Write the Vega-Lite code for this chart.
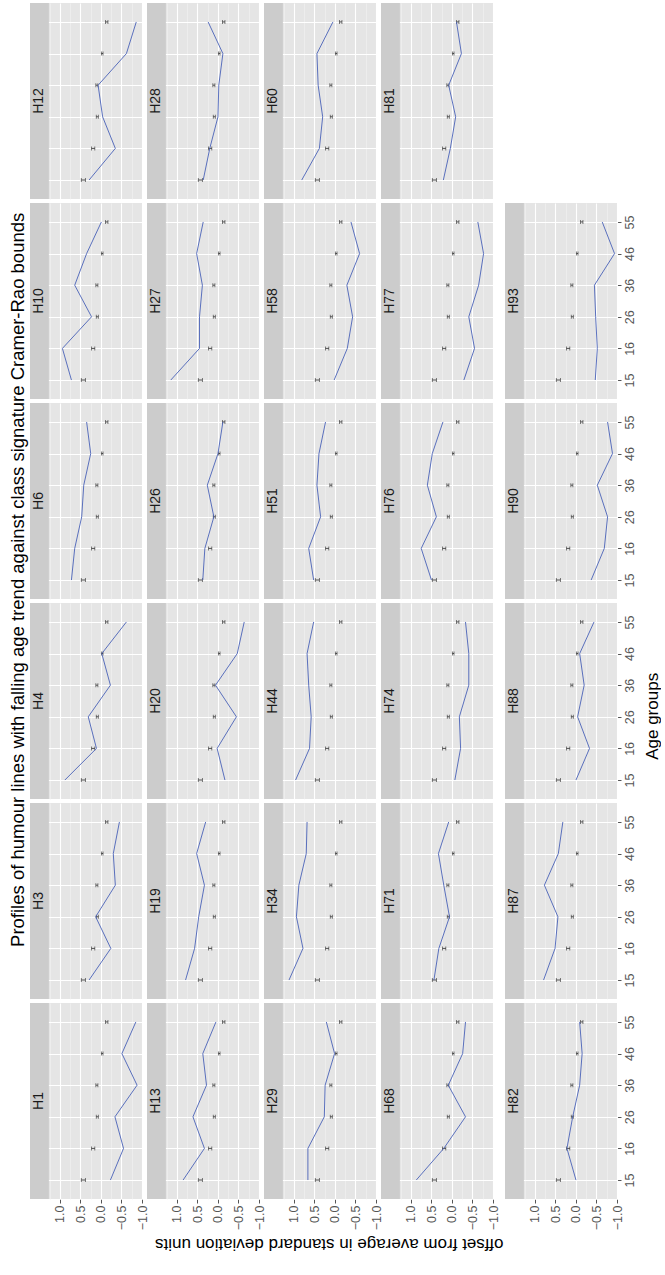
{
 "$schema": "https://vega.github.io/schema/vega-lite/v6.json",
 "background": "white",
 "padding": {"left": 8, "top": 3, "right": 0, "bottom": 0},
 "title": {"text": "Profiles of humour lines with falling age trend against class signature Cramer-Rao bounds", "orient": "left", "anchor": "middle", "dx": 48, "fontSize": 18.5, "fontWeight": "normal", "font": "Liberation Sans", "color": "black", "offset": 3},
 "datasets": {
  "bounds": [
   {"age": 15, "lo": 0.38, "hi": 0.48},
   {"age": 16, "lo": 0.15, "hi": 0.23},
   {"age": 26, "lo": 0.065, "hi": 0.115},
   {"age": 36, "lo": 0.075, "hi": 0.125},
   {"age": 46, "lo": -0.05, "hi": -0.01},
   {"age": 55, "lo": -0.17, "hi": -0.11}
  ],
  "profiles": [
   {"h":"H1","g":1,"s":1,"age":15,"v":-0.23},{"h":"H1","g":1,"s":1,"age":16,"v":-0.55},{"h":"H1","g":1,"s":1,"age":26,"v":-0.34},{"h":"H1","g":1,"s":1,"age":36,"v":-0.88},{"h":"H1","g":1,"s":1,"age":46,"v":-0.51},{"h":"H1","g":1,"s":1,"age":55,"v":-0.85},
   {"h":"H3","g":1,"s":2,"age":15,"v":0.29},{"h":"H3","g":1,"s":2,"age":16,"v":-0.24},{"h":"H3","g":1,"s":2,"age":26,"v":0.13},{"h":"H3","g":1,"s":2,"age":36,"v":-0.35},{"h":"H3","g":1,"s":2,"age":46,"v":-0.30},{"h":"H3","g":1,"s":2,"age":55,"v":-0.45},
   {"h":"H4","g":1,"s":3,"age":15,"v":0.88},{"h":"H4","g":1,"s":3,"age":16,"v":0.11},{"h":"H4","g":1,"s":3,"age":26,"v":0.31},{"h":"H4","g":1,"s":3,"age":36,"v":-0.23},{"h":"H4","g":1,"s":3,"age":46,"v":-0.02},{"h":"H4","g":1,"s":3,"age":55,"v":-0.62},
   {"h":"H6","g":1,"s":4,"age":15,"v":0.72},{"h":"H6","g":1,"s":4,"age":16,"v":0.64},{"h":"H6","g":1,"s":4,"age":26,"v":0.47},{"h":"H6","g":1,"s":4,"age":36,"v":0.42},{"h":"H6","g":1,"s":4,"age":46,"v":0.25},{"h":"H6","g":1,"s":4,"age":55,"v":0.35},
   {"h":"H10","g":1,"s":5,"age":15,"v":0.72},{"h":"H10","g":1,"s":5,"age":16,"v":0.94},{"h":"H10","g":1,"s":5,"age":26,"v":0.23},{"h":"H10","g":1,"s":5,"age":36,"v":0.64},{"h":"H10","g":1,"s":5,"age":46,"v":0.35},{"h":"H10","g":1,"s":5,"age":55,"v":-0.01},
   {"h":"H12","g":1,"s":6,"age":15,"v":0.29},{"h":"H12","g":1,"s":6,"age":16,"v":-0.35},{"h":"H12","g":1,"s":6,"age":26,"v":-0.04},{"h":"H12","g":1,"s":6,"age":36,"v":0.07},{"h":"H12","g":1,"s":6,"age":46,"v":-0.62},{"h":"H12","g":1,"s":6,"age":55,"v":-0.86},
   {"h":"H13","g":2,"s":1,"age":15,"v":0.85},{"h":"H13","g":2,"s":1,"age":16,"v":0.33},{"h":"H13","g":2,"s":1,"age":26,"v":0.61},{"h":"H13","g":2,"s":1,"age":36,"v":0.28},{"h":"H13","g":2,"s":1,"age":46,"v":0.37},{"h":"H13","g":2,"s":1,"age":55,"v":0.05},
   {"h":"H19","g":2,"s":2,"age":15,"v":0.79},{"h":"H19","g":2,"s":2,"age":16,"v":0.57},{"h":"H19","g":2,"s":2,"age":26,"v":0.47},{"h":"H19","g":2,"s":2,"age":36,"v":0.33},{"h":"H19","g":2,"s":2,"age":46,"v":0.52},{"h":"H19","g":2,"s":2,"age":55,"v":0.30},
   {"h":"H20","g":2,"s":3,"age":15,"v":-0.17},{"h":"H20","g":2,"s":3,"age":16,"v":0.02},{"h":"H20","g":2,"s":3,"age":26,"v":-0.45},{"h":"H20","g":2,"s":3,"age":36,"v":0.06},{"h":"H20","g":2,"s":3,"age":46,"v":-0.47},{"h":"H20","g":2,"s":3,"age":55,"v":-0.64},
   {"h":"H26","g":2,"s":4,"age":15,"v":0.37},{"h":"H26","g":2,"s":4,"age":16,"v":0.32},{"h":"H26","g":2,"s":4,"age":26,"v":0.10},{"h":"H26","g":2,"s":4,"age":36,"v":0.26},{"h":"H26","g":2,"s":4,"age":46,"v":0.00},{"h":"H26","g":2,"s":4,"age":55,"v":-0.12},
   {"h":"H27","g":2,"s":5,"age":15,"v":1.15},{"h":"H27","g":2,"s":5,"age":16,"v":0.45},{"h":"H27","g":2,"s":5,"age":26,"v":0.45},{"h":"H27","g":2,"s":5,"age":36,"v":0.38},{"h":"H27","g":2,"s":5,"age":46,"v":0.52},{"h":"H27","g":2,"s":5,"age":55,"v":0.36},
   {"h":"H28","g":2,"s":6,"age":15,"v":0.36},{"h":"H28","g":2,"s":6,"age":16,"v":0.20},{"h":"H28","g":2,"s":6,"age":26,"v":0.00},{"h":"H28","g":2,"s":6,"age":36,"v":-0.02},{"h":"H28","g":2,"s":6,"age":46,"v":-0.12},{"h":"H28","g":2,"s":6,"age":55,"v":0.24},
   {"h":"H29","g":3,"s":1,"age":15,"v":0.66},{"h":"H29","g":3,"s":1,"age":16,"v":0.66},{"h":"H29","g":3,"s":1,"age":26,"v":0.26},{"h":"H29","g":3,"s":1,"age":36,"v":0.24},{"h":"H29","g":3,"s":1,"age":46,"v":0.01},{"h":"H29","g":3,"s":1,"age":55,"v":0.21},
   {"h":"H34","g":3,"s":2,"age":15,"v":1.12},{"h":"H34","g":3,"s":2,"age":16,"v":0.78},{"h":"H34","g":3,"s":2,"age":26,"v":0.94},{"h":"H34","g":3,"s":2,"age":36,"v":0.88},{"h":"H34","g":3,"s":2,"age":46,"v":0.70},{"h":"H34","g":3,"s":2,"age":55,"v":0.68},
   {"h":"H44","g":3,"s":3,"age":15,"v":0.96},{"h":"H44","g":3,"s":3,"age":16,"v":0.62},{"h":"H44","g":3,"s":3,"age":26,"v":0.58},{"h":"H44","g":3,"s":3,"age":36,"v":0.64},{"h":"H44","g":3,"s":3,"age":46,"v":0.68},{"h":"H44","g":3,"s":3,"age":55,"v":0.52},
   {"h":"H51","g":3,"s":4,"age":15,"v":0.52},{"h":"H51","g":3,"s":4,"age":16,"v":0.64},{"h":"H51","g":3,"s":4,"age":26,"v":0.35},{"h":"H51","g":3,"s":4,"age":36,"v":0.44},{"h":"H51","g":3,"s":4,"age":46,"v":0.39},{"h":"H51","g":3,"s":4,"age":55,"v":0.23},
   {"h":"H58","g":3,"s":5,"age":15,"v":0.02},{"h":"H58","g":3,"s":5,"age":16,"v":-0.30},{"h":"H58","g":3,"s":5,"age":26,"v":-0.43},{"h":"H58","g":3,"s":5,"age":36,"v":-0.29},{"h":"H58","g":3,"s":5,"age":46,"v":-0.60},{"h":"H58","g":3,"s":5,"age":55,"v":-0.39},
   {"h":"H60","g":3,"s":6,"age":15,"v":0.81},{"h":"H60","g":3,"s":6,"age":16,"v":0.38},{"h":"H60","g":3,"s":6,"age":26,"v":0.30},{"h":"H60","g":3,"s":6,"age":36,"v":0.41},{"h":"H60","g":3,"s":6,"age":46,"v":0.44},{"h":"H60","g":3,"s":6,"age":55,"v":0.05},
   {"h":"H68","g":4,"s":1,"age":15,"v":0.87},{"h":"H68","g":4,"s":1,"age":16,"v":0.20},{"h":"H68","g":4,"s":1,"age":26,"v":-0.33},{"h":"H68","g":4,"s":1,"age":36,"v":0.09},{"h":"H68","g":4,"s":1,"age":46,"v":-0.26},{"h":"H68","g":4,"s":1,"age":55,"v":-0.33},
   {"h":"H71","g":4,"s":2,"age":15,"v":0.44},{"h":"H71","g":4,"s":2,"age":16,"v":0.32},{"h":"H71","g":4,"s":2,"age":26,"v":0.06},{"h":"H71","g":4,"s":2,"age":36,"v":0.20},{"h":"H71","g":4,"s":2,"age":46,"v":0.33},{"h":"H71","g":4,"s":2,"age":55,"v":0.08},
   {"h":"H74","g":4,"s":3,"age":15,"v":-0.07},{"h":"H74","g":4,"s":3,"age":16,"v":-0.21},{"h":"H74","g":4,"s":3,"age":26,"v":-0.18},{"h":"H74","g":4,"s":3,"age":36,"v":-0.41},{"h":"H74","g":4,"s":3,"age":46,"v":-0.41},{"h":"H74","g":4,"s":3,"age":55,"v":-0.33},
   {"h":"H76","g":4,"s":4,"age":15,"v":0.50},{"h":"H76","g":4,"s":4,"age":16,"v":0.75},{"h":"H76","g":4,"s":4,"age":26,"v":0.38},{"h":"H76","g":4,"s":4,"age":36,"v":0.60},{"h":"H76","g":4,"s":4,"age":46,"v":0.48},{"h":"H76","g":4,"s":4,"age":55,"v":0.22},
   {"h":"H77","g":4,"s":5,"age":15,"v":-0.29},{"h":"H77","g":4,"s":5,"age":16,"v":-0.55},{"h":"H77","g":4,"s":5,"age":26,"v":-0.41},{"h":"H77","g":4,"s":5,"age":36,"v":-0.65},{"h":"H77","g":4,"s":5,"age":46,"v":-0.77},{"h":"H77","g":4,"s":5,"age":55,"v":-0.63},
   {"h":"H81","g":4,"s":6,"age":15,"v":0.21},{"h":"H81","g":4,"s":6,"age":16,"v":0.04},{"h":"H81","g":4,"s":6,"age":26,"v":-0.09},{"h":"H81","g":4,"s":6,"age":36,"v":0.08},{"h":"H81","g":4,"s":6,"age":46,"v":-0.23},{"h":"H81","g":4,"s":6,"age":55,"v":-0.11},
   {"h":"H82","g":5,"s":1,"age":15,"v":0.00},{"h":"H82","g":5,"s":1,"age":16,"v":0.22},{"h":"H82","g":5,"s":1,"age":26,"v":0.08},{"h":"H82","g":5,"s":1,"age":36,"v":-0.09},{"h":"H82","g":5,"s":1,"age":46,"v":-0.15},{"h":"H82","g":5,"s":1,"age":55,"v":-0.09},
   {"h":"H87","g":5,"s":2,"age":15,"v":0.79},{"h":"H87","g":5,"s":2,"age":16,"v":0.51},{"h":"H87","g":5,"s":2,"age":26,"v":0.44},{"h":"H87","g":5,"s":2,"age":36,"v":0.77},{"h":"H87","g":5,"s":2,"age":46,"v":0.43},{"h":"H87","g":5,"s":2,"age":55,"v":0.32},
   {"h":"H88","g":5,"s":3,"age":15,"v":0.00},{"h":"H88","g":5,"s":3,"age":16,"v":-0.33},{"h":"H88","g":5,"s":3,"age":26,"v":-0.04},{"h":"H88","g":5,"s":3,"age":36,"v":-0.20},{"h":"H88","g":5,"s":3,"age":46,"v":-0.09},{"h":"H88","g":5,"s":3,"age":55,"v":-0.44},
   {"h":"H90","g":5,"s":4,"age":15,"v":-0.37},{"h":"H90","g":5,"s":4,"age":16,"v":-0.69},{"h":"H90","g":5,"s":4,"age":26,"v":-0.77},{"h":"H90","g":5,"s":4,"age":36,"v":-0.52},{"h":"H90","g":5,"s":4,"age":46,"v":-0.89},{"h":"H90","g":5,"s":4,"age":55,"v":-0.77},
   {"h":"H93","g":5,"s":5,"age":15,"v":-0.47},{"h":"H93","g":5,"s":5,"age":16,"v":-0.52},{"h":"H93","g":5,"s":5,"age":26,"v":-0.48},{"h":"H93","g":5,"s":5,"age":36,"v":-0.45},{"h":"H93","g":5,"s":5,"age":46,"v":-0.94},{"h":"H93","g":5,"s":5,"age":55,"v":-0.64}
  ]
 },
 "hconcat": [{
  "title": {"text": "offset from average in standard deviation units", "orient": "bottom", "anchor": "middle", "angle": 180, "baseline": "bottom", "dx": 16, "fontSize": 17, "fontWeight": "normal", "font": "Liberation Sans", "color": "black", "offset": 5},
  "spacing": 5,
  "hconcat": [
   {
    "data": {"name": "profiles"},
    "transform": [
     {"filter": "datum.g < 5"},
     {"lookup": "age", "from": {"data": {"name": "bounds"}, "key": "age", "fields": ["lo", "hi"]}}
    ],
    "facet": {
     "row": {"field": "s", "type": "ordinal", "sort": "descending", "title": null, "header": {"labels": false}},
     "column": {"field": "g", "type": "ordinal", "title": null, "header": {"labels": false}}
    },
    "spacing": {"row": 4, "column": 5},
    "spec": {
     "width": 112, "height": 196,
     "layer": [
      {"transform": [{"filter": "datum.age == 15"}],
       "mark": {"type": "rect", "color": "#CCCCCC"},
       "encoding": {
        "x": {"datum": 1.27, "type": "quantitative", "scale": {"domain": [-1, 1.73], "reverse": true, "nice": false, "zero": false},
              "axis": {"orient": "top", "values": [-0.75, -0.25, 0.25, 0.75, 1.25], "grid": true, "gridColor": "#F2F2F2", "gridWidth": 0.6, "labels": false, "ticks": false, "domain": false, "title": null}},
        "x2": {"datum": 1.73}
       }},
      {"transform": [{"filter": "datum.age == 15"}],
       "mark": {"type": "text", "angle": 270, "fontSize": 14, "color": "#1A1A1A", "font": "Liberation Sans"},
       "encoding": {"x": {"datum": 1.5, "type": "quantitative", "axis": null}, "text": {"field": "h"}}},
      {"mark": {"type": "errorbar", "ticks": {"size": 4}, "color": "#222222", "thickness": 0.8},
       "encoding": {
        "x": {"field": "lo", "type": "quantitative", "axis": null},
        "x2": {"field": "hi"},
        "y": {"field": "age", "type": "ordinal", "scale": {"type": "point", "domain": [55, 46, 36, 26, 16, 15], "padding": 0.6},
              "axis": {"labels": false, "ticks": false, "domain": false, "grid": true, "gridColor": "white", "gridWidth": 1.1, "title": null}}
       }},
      {"mark": {"type": "line", "color": "#4A62B8", "strokeWidth": 0.9},
       "encoding": {
        "x": {"field": "v", "type": "quantitative",
              "axis": {"values": [-1, -0.5, 0, 0.5, 1], "format": ".1f", "grid": true, "gridColor": "white", "gridWidth": 1.1, "labelAngle": 270, "title": null, "domain": false, "ticks": true, "tickSize": 4, "tickColor": "#555555", "labelColor": "#555555", "labelFontSize": 12.5, "labelPadding": 2, "labelFont": "Liberation Sans"}},
        "y": {"field": "age", "type": "ordinal"},
        "order": {"field": "age", "type": "quantitative"}
       }}
     ],
     "resolve": {"axis": {"x": "independent"}}
    }
   },
   {
    "spacing": 4,
    "vconcat": [
     {"width": 112, "height": 196, "data": {"values": [{}]}, "mark": {"type": "point", "opacity": 0}, "encoding": {}, "view": {"fill": null, "stroke": null}},
     {
      "data": {"name": "profiles"},
      "title": {"text": "Age groups", "orient": "right", "anchor": "middle", "angle": 270, "baseline": "top", "dy": -10, "fontSize": 17, "fontWeight": "normal", "font": "Liberation Sans", "color": "black", "offset": 2},
      "transform": [
       {"filter": "datum.g == 5"},
       {"lookup": "age", "from": {"data": {"name": "bounds"}, "key": "age", "fields": ["lo", "hi"]}}
      ],
      "facet": {
       "row": {"field": "s", "type": "ordinal", "sort": "descending", "title": null, "header": {"labels": false}}
      },
      "spacing": {"row": 4},
      "spec": {
       "width": 112, "height": 196,
       "layer": [
        {"transform": [{"filter": "datum.age == 15"}],
         "mark": {"type": "rect", "color": "#CCCCCC"},
         "encoding": {
          "x": {"datum": 1.27, "type": "quantitative", "scale": {"domain": [-1, 1.73], "reverse": true, "nice": false, "zero": false},
                "axis": {"orient": "top", "values": [-0.75, -0.25, 0.25, 0.75, 1.25], "grid": true, "gridColor": "#F2F2F2", "gridWidth": 0.6, "labels": false, "ticks": false, "domain": false, "title": null}},
          "x2": {"datum": 1.73}
         }},
        {"transform": [{"filter": "datum.age == 15"}],
         "mark": {"type": "text", "angle": 270, "fontSize": 14, "color": "#1A1A1A", "font": "Liberation Sans"},
         "encoding": {"x": {"datum": 1.5, "type": "quantitative", "axis": null}, "text": {"field": "h"}}},
        {"mark": {"type": "errorbar", "ticks": {"size": 4}, "color": "#222222", "thickness": 0.8},
         "encoding": {
          "x": {"field": "lo", "type": "quantitative", "axis": null},
          "x2": {"field": "hi"},
          "y": {"field": "age", "type": "ordinal", "scale": {"type": "point", "domain": [55, 46, 36, 26, 16, 15], "padding": 0.6},
                "axis": {"orient": "right", "labels": true, "ticks": true, "tickSize": 4, "tickColor": "#555555", "labelAngle": 270, "labelAlign": "center", "labelBaseline": "top", "labelColor": "#555555", "labelFontSize": 12.5, "labelPadding": 2, "labelFont": "Liberation Sans", "domain": false, "grid": true, "gridColor": "white", "gridWidth": 1.1, "title": null}}
         }},
        {"mark": {"type": "line", "color": "#4A62B8", "strokeWidth": 0.9},
         "encoding": {
          "x": {"field": "v", "type": "quantitative",
                "axis": {"values": [-1, -0.5, 0, 0.5, 1], "format": ".1f", "grid": true, "gridColor": "white", "gridWidth": 1.1, "labelAngle": 270, "title": null, "domain": false, "ticks": true, "tickSize": 4, "tickColor": "#555555", "labelColor": "#555555", "labelFontSize": 12.5, "labelPadding": 2, "labelFont": "Liberation Sans"}},
          "y": {"field": "age", "type": "ordinal"},
          "order": {"field": "age", "type": "quantitative"}
         }}
       ],
       "resolve": {"axis": {"x": "independent"}}
      }
     }
    ]
   }
  ]
 }],
 "config": {
  "view": {"fill": "#E5E5E5", "stroke": null},
  "font": "Liberation Sans"
 }
}
